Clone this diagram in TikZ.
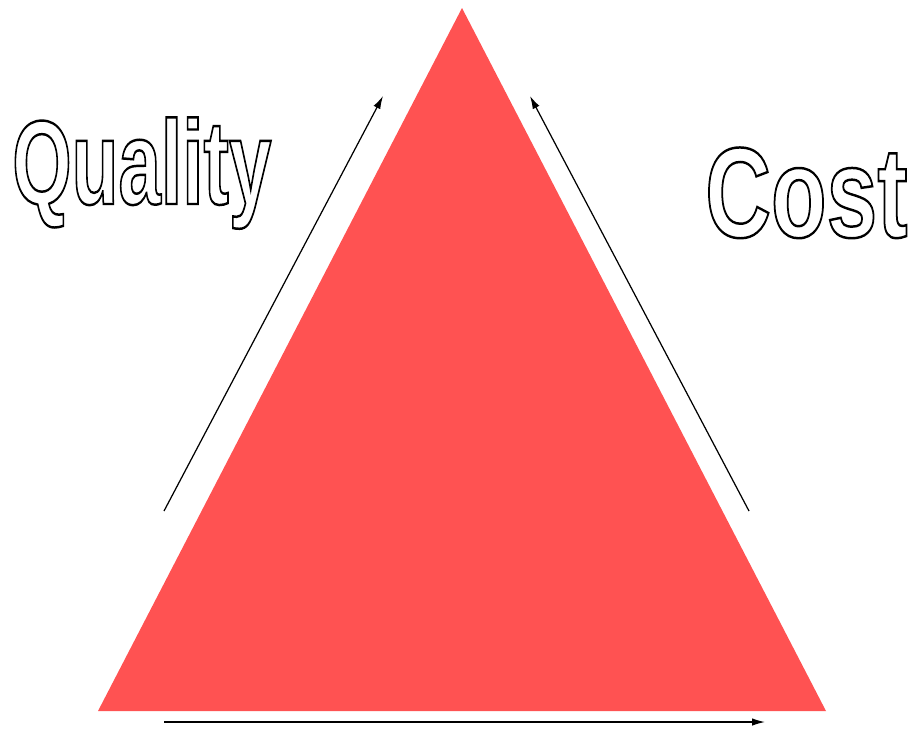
\documentclass[tikz,border=0pt]{standalone}
\usepackage{fontspec}
\usepackage{xcolor}
\usetikzlibrary{arrows.meta}
\newfontfamily\headfont{Liberation Sans Bold}
\definecolor{trired}{HTML}{FF5252}
% hollow letters: stroke only, no fill
\newcommand{\hollow}[1]{\special{pdf:literal 1 Tr 1.4 w}#1\special{pdf:literal 0 Tr}}

\begin{document}
\begin{tikzpicture}[x=0.02cm,y=-0.02cm,>={Latex[length=2.6mm,width=1.5mm]}]
\useasboundingbox (0,0) rectangle (916,728);
\fill[trired] (462,8) -- (826,711) -- (98,711) -- cycle;
\coordinate (qa) at (164,511);
\coordinate (qb) at (383,96);
\coordinate (ca) at (749,511);
\coordinate (cb) at (530,96);
\coordinate (ta) at (164,722);
\coordinate (tb) at (765,722);
\draw[->,line width=0.7pt] (qa) -- (qb);
\draw[->,line width=0.7pt] (ca) -- (cb);
\draw[->,line width=0.7pt] (ta) -- (tb);
\node[anchor=base west,inner sep=0pt,xscale=0.64,font=\headfont\fontsize{68}{68}\selectfont] (quality) at (12,204) {\hollow{Quality}};
\node[anchor=base west,inner sep=0pt,xscale=0.71,font=\headfont\fontsize{73}{73}\selectfont] (cost) at (705,237) {\hollow{Cost}};
\end{tikzpicture}
\end{document}
